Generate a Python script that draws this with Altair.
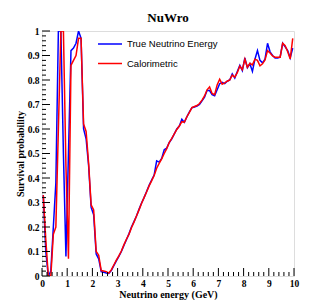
import altair as alt
import pandas as pd

# Bin centres (GeV), 100 bins of 0.1 GeV from 0 to 10
energy = [round(0.05 + 0.1 * i, 2) for i in range(100)]

true_nu = [
    0.33, 0.10, 0.00, 0.02, 0.20, 0.38, 1.00, 1.00, 0.50, 0.08,
    0.50, 0.92, 0.93, 0.95, 1.00, 0.97, 0.60, 0.56, 0.45, 0.28,
    0.25, 0.09, 0.07, 0.018, 0.015, 0.012, 0.010, 0.022, 0.042, 0.062,
    0.080, 0.100, 0.125, 0.148, 0.172, 0.200, 0.222, 0.245, 0.272, 0.298,
    0.320, 0.345, 0.370, 0.392, 0.412, 0.470, 0.465, 0.480, 0.515, 0.522,
    0.545, 0.560, 0.580, 0.600, 0.612, 0.640, 0.627, 0.650, 0.670, 0.687,
    0.690, 0.694, 0.700, 0.715, 0.730, 0.757, 0.757, 0.740, 0.736, 0.760,
    0.785, 0.790, 0.785, 0.795, 0.800, 0.825, 0.808, 0.835, 0.860, 0.838,
    0.890, 0.850, 0.866, 0.835, 0.885, 0.920, 0.880, 0.870, 0.885, 0.950,
    0.915, 0.900, 0.890, 0.890, 0.893, 0.950, 0.935, 0.920, 0.890, 0.930,
]

calorimetric = [
    0.33, 0.15, 0.00, 0.00, 0.17, 0.20, 0.60, 1.00, 1.00, 0.45,
    0.07, 0.86, 0.88, 0.90, 0.97, 0.97, 0.62, 0.59, 0.46, 0.29,
    0.27, 0.10, 0.085, 0.022, 0.020, 0.018, 0.012, 0.025, 0.045, 0.065,
    0.082, 0.102, 0.127, 0.150, 0.170, 0.197, 0.220, 0.245, 0.270, 0.296,
    0.320, 0.343, 0.368, 0.388, 0.410, 0.440, 0.460, 0.478, 0.500, 0.520,
    0.545, 0.562, 0.580, 0.598, 0.612, 0.630, 0.628, 0.650, 0.668, 0.687,
    0.692, 0.696, 0.704, 0.718, 0.735, 0.760, 0.772, 0.745, 0.740, 0.780,
    0.803, 0.783, 0.788, 0.795, 0.800, 0.820, 0.812, 0.830, 0.857, 0.842,
    0.885, 0.852, 0.868, 0.862, 0.885, 0.880, 0.858, 0.866, 0.882, 0.920,
    0.910, 0.898, 0.893, 0.893, 0.893, 0.950, 0.940, 0.915, 0.886, 0.970,
]

series_names = ["True Neutrino Energy", "Calorimetric"]
series_colors = ["#0000ff", "#ff0000"]

x_major = list(range(0, 11))
x_minor = [round(i * 0.2, 1) for i in range(51) if i % 5 != 0]
y_major = [round(i * 0.1, 1) for i in range(11)]
y_minor = [round(i * 0.02, 2) for i in range(51) if i % 5 != 0]

W, H = 252, 245
SERIF = "Liberation Serif"
SANS = "Liberation Sans"

xs = alt.Scale(domain=[0, 10], nice=False, zero=False)
ys = alt.Scale(domain=[0, 1], nice=False, zero=False)

df_b = pd.DataFrame({"E": energy, "P": true_nu})
df_r = pd.DataFrame({"E": energy, "P": calorimetric})

x_axis = alt.Axis(values=x_major, format="d", ticks=False, domain=False, grid=False,
                  labelOverlap=False, labelFlush=False,
                  labelFont=SERIF, labelFontWeight="bold", labelFontSize=9.5,
                  labelPadding=2, labelColor="#000",
                  title="Neutrino energy (GeV)", titleFont=SERIF, titleFontWeight="bold",
                  titleFontSize=10, titleColor="#000", titleY=21, titleBaseline="alphabetic")
y_axis = alt.Axis(values=y_major, format=".1~f", ticks=False, domain=False, grid=False,
                  labelOverlap=False, labelFlush=False,
                  labelFont=SERIF, labelFontWeight="bold", labelFontSize=9.5,
                  labelPadding=3, labelColor="#000",
                  title="Survival probability", titleFont=SERIF, titleFontWeight="bold",
                  titleFontSize=10, titleColor="#000", titleX=-19, titleBaseline="alphabetic")

blue = alt.Chart(df_b).mark_line(color=series_colors[0], strokeWidth=1.5, clip=True).encode(
    x=alt.X("E:Q", scale=xs, axis=x_axis, title="Neutrino energy (GeV)"),
    y=alt.Y("P:Q", scale=ys, axis=y_axis, title="Survival probability"),
)
red = alt.Chart(df_r).mark_line(color=series_colors[1], strokeWidth=1.5, clip=True).encode(
    x=alt.X("E:Q", scale=xs, axis=x_axis, title="Neutrino energy (GeV)"),
    y=alt.Y("P:Q", scale=ys, axis=y_axis, title="Survival probability"),
)

def xticks(vals, length):
    return alt.Chart(pd.DataFrame({"E": vals})).mark_rule(color="#000", strokeWidth=1).encode(
        x=alt.X("E:Q", scale=xs, axis=x_axis, title="Neutrino energy (GeV)"),
        y=alt.value(H), y2=alt.value(H - length))

def yticks(vals, length):
    return alt.Chart(pd.DataFrame({"P": vals})).mark_rule(color="#000", strokeWidth=1).encode(
        y=alt.Y("P:Q", scale=ys, axis=y_axis, title="Survival probability"),
        x=alt.value(0), x2=alt.value(length))

leg_df = pd.DataFrame({"name": series_names, "color": series_colors, "py": [13, 32.5]})
leg_lines = alt.Chart(leg_df).mark_rule(strokeWidth=1.5).encode(
    x=alt.value(56), x2=alt.value(80), y=alt.Y("py:Q", scale=None),
    color=alt.Color("color:N", scale=None))
leg_text = alt.Chart(leg_df).mark_text(align="left", baseline="middle", font=SANS,
                                       fontSize=9.5, color="#000").encode(
    x=alt.value(85), y=alt.Y("py:Q", scale=None), text="name:N")

title = alt.Chart(pd.DataFrame({"t": ["NuWro"]})).mark_text(
    align="center", baseline="alphabetic", font=SERIF, fontWeight="bold",
    fontSize=13, color="#000").encode(x=alt.value(W / 2), y=alt.value(-9), text="t:N")

chart = alt.layer(
    blue, red,
    xticks(x_major, 8), xticks(x_minor, 4),
    yticks(y_major, 8), yticks(y_minor, 4),
    leg_lines, leg_text, title,
).properties(
    width=W, height=H,
    autosize=alt.AutoSizeParams(type="none"),
    padding={"left": 34, "top": 23, "right": 10, "bottom": 24},
).configure_view(stroke="#000", strokeWidth=1).configure(background="white")

chart.save("out.html", embed_options={"renderer": "svg", "actions": False})
